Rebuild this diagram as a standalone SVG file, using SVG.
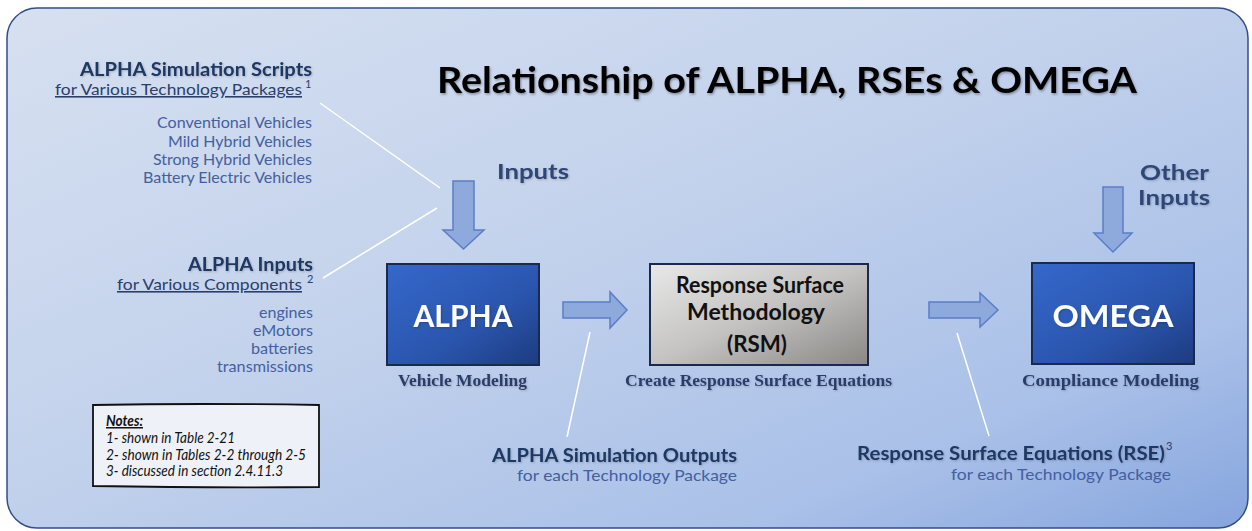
<svg xmlns="http://www.w3.org/2000/svg" width="1252" height="531" viewBox="0 0 1252 531">
  <defs>
    <linearGradient id="bg" x1="0" y1="0" x2="1" y2="1">
      <stop offset="0" stop-color="#d6e0f0"/>
      <stop offset="0.45" stop-color="#c3d2ec"/>
      <stop offset="0.8" stop-color="#a9c0e8"/>
      <stop offset="1" stop-color="#86a5de"/>
    </linearGradient>
    <linearGradient id="blueBox" x1="0" y1="0" x2="1" y2="1">
      <stop offset="0" stop-color="#3568cc"/>
      <stop offset="0.6" stop-color="#2a55ad"/>
      <stop offset="1" stop-color="#1d3b80"/>
    </linearGradient>
    <linearGradient id="grayBox" x1="0" y1="0" x2="1" y2="1">
      <stop offset="0" stop-color="#e8e8e8"/>
      <stop offset="0.5" stop-color="#c4c3c2"/>
      <stop offset="1" stop-color="#8a8784"/>
    </linearGradient>
    <filter id="shadow" x="-5%" y="-20%" width="110%" height="150%">
      <feDropShadow dx="1" dy="1.5" stdDeviation="1" flood-color="#000" flood-opacity="0.35"/>
    </filter>
    <filter id="softshadow" x="-5%" y="-20%" width="110%" height="150%">
      <feDropShadow dx="1" dy="1" stdDeviation="0.8" flood-color="#000" flood-opacity="0.2"/>
    </filter>
    <style>
      .sans { font-family: Lato, "Open Sans", "Liberation Sans", sans-serif; }
      .serif { font-family: "Liberation Serif", "DejaVu Serif", serif; font-weight: bold; }
      .head { font-size: 18px; font-weight: bold; fill: #1f3864; }
      .sub { font-size: 16px; fill: #2b3f6c; text-decoration: underline; }
      .item { font-size: 16px; fill: #4360a0; }
      .sup { font-size: 11px; fill: #2b3f6c; }
      .lbl { font-size: 21px; font-weight: bold; fill: #2e4677; }
      .cap { font-size: 16px; fill: #2a3c6a; }
      .boxtxt { font-size: 30px; font-weight: bold; fill: #ffffff; }
      .rsm { font-size: 22px; font-weight: bold; fill: #111111; }
      .note { font-size: 15px; font-style: italic; fill: #111111; }
      .callout { stroke: #ffffff; stroke-width: 1.5; fill: none; }
      .barrow { fill: #8eaadc; stroke: #5a7ec8; stroke-width: 1.5; }
      .box { stroke: #1a2a4c; stroke-width: 2; }
    </style>
  </defs>

  <!-- background frame -->
  <rect x="7" y="8" width="1241" height="520" rx="30" ry="30" fill="url(#bg)" stroke="#2f4f86" stroke-width="1.5"/>

  <!-- title -->
  <text class="sans" x="437" y="93" font-size="36" font-weight="bold" fill="#000" textLength="700" lengthAdjust="spacingAndGlyphs" filter="url(#shadow)">Relationship of ALPHA, RSEs &amp; OMEGA</text>

  <!-- connectors -->
  <g id="connectors">
    <line class="callout" x1="320" y1="103" x2="440" y2="188"/>
    <line class="callout" x1="323" y1="278" x2="437" y2="208"/>
    <line class="callout" x1="590" y1="332" x2="567" y2="437"/>
    <line class="callout" x1="957" y1="333" x2="989" y2="436"/>
    <polygon class="barrow" points="453,181 474,181 474,230 484,230 463.5,249 443,230 453,230"/>
    <polygon class="barrow" points="1103,187 1123,187 1123,233 1132,233 1113,252 1094,233 1103,233"/>
    <polygon class="barrow" points="563,302 610,302 610,292 627,310 610,328 610,318 563,318"/>
    <polygon class="barrow" points="929,302 980,302 980,293 998,310 980,327 980,318 929,318"/>
  </g>

  <!-- ALPHA simulation scripts -->
  <g id="scripts" class="sans">
    <text class="head" x="312" y="76" text-anchor="end" textLength="232" lengthAdjust="spacingAndGlyphs" filter="url(#softshadow)">ALPHA Simulation Scripts</text>
    <text class="sub" x="55" y="95" textLength="247" lengthAdjust="spacingAndGlyphs">for Various Technology Packages</text>
    <text class="sup" x="305" y="88">1</text>
    <text class="item" x="312" y="128" text-anchor="end" textLength="155" lengthAdjust="spacingAndGlyphs">Conventional Vehicles</text>
    <text class="item" x="312" y="147" text-anchor="end" textLength="144" lengthAdjust="spacingAndGlyphs">Mild Hybrid Vehicles</text>
    <text class="item" x="312" y="165" text-anchor="end" textLength="159" lengthAdjust="spacingAndGlyphs">Strong Hybrid Vehicles</text>
    <text class="item" x="312" y="183" text-anchor="end" textLength="169" lengthAdjust="spacingAndGlyphs">Battery Electric Vehicles</text>
  </g>

  <!-- ALPHA inputs -->
  <g id="alpha-inputs" class="sans">
    <text class="head" x="313" y="271" text-anchor="end" textLength="125" lengthAdjust="spacingAndGlyphs" filter="url(#softshadow)">ALPHA Inputs</text>
    <text class="sub" x="117" y="290" textLength="185" lengthAdjust="spacingAndGlyphs">for Various Components</text>
    <text class="sup" x="307" y="283">2</text>
    <text class="item" x="313" y="318" text-anchor="end" textLength="54" lengthAdjust="spacingAndGlyphs">engines</text>
    <text class="item" x="313" y="336" text-anchor="end" textLength="60" lengthAdjust="spacingAndGlyphs">eMotors</text>
    <text class="item" x="313" y="354" text-anchor="end" textLength="62" lengthAdjust="spacingAndGlyphs">batteries</text>
    <text class="item" x="313" y="372" text-anchor="end" textLength="96" lengthAdjust="spacingAndGlyphs">transmissions</text>
  </g>

  <!-- Inputs label -->
  <g id="inputs-label" class="sans">
    <text class="lbl" x="497" y="179" textLength="72" lengthAdjust="spacingAndGlyphs" filter="url(#softshadow)">Inputs</text>
  </g>

  <!-- Other inputs label -->
  <g id="other-inputs-label" class="sans">
    <text class="lbl" x="1209" y="180" text-anchor="end" textLength="69" lengthAdjust="spacingAndGlyphs" filter="url(#softshadow)">Other</text>
    <text class="lbl" x="1210" y="205" text-anchor="end" textLength="72" lengthAdjust="spacingAndGlyphs" filter="url(#softshadow)">Inputs</text>
  </g>

  <!-- ALPHA node -->
  <g id="alpha">
    <rect class="box" x="387" y="264" width="152" height="101" fill="url(#blueBox)"/>
    <text class="sans boxtxt" x="463" y="327" text-anchor="middle" textLength="99" lengthAdjust="spacingAndGlyphs" filter="url(#softshadow)">ALPHA</text>
    <text class="serif cap" x="462.5" y="386" text-anchor="middle" textLength="129" lengthAdjust="spacingAndGlyphs" filter="url(#softshadow)">Vehicle Modeling</text>
  </g>

  <!-- RSM node -->
  <g id="rsm">
    <rect class="box" x="650" y="264" width="218" height="101" fill="url(#grayBox)"/>
    <text class="sans rsm" x="760" y="293" text-anchor="middle" textLength="168" lengthAdjust="spacingAndGlyphs">Response Surface</text>
    <text class="sans rsm" x="756" y="320" text-anchor="middle" textLength="138" lengthAdjust="spacingAndGlyphs">Methodology</text>
    <text class="sans rsm" x="757" y="352" text-anchor="middle" textLength="60" lengthAdjust="spacingAndGlyphs">(RSM)</text>
    <text class="serif cap" x="758.5" y="386" text-anchor="middle" textLength="267" lengthAdjust="spacingAndGlyphs" filter="url(#softshadow)">Create Response Surface Equations</text>
  </g>

  <!-- OMEGA node -->
  <g id="omega">
    <rect class="box" x="1032" y="263" width="162" height="101" fill="url(#blueBox)"/>
    <text class="sans boxtxt" x="1113" y="327" text-anchor="middle" textLength="121" lengthAdjust="spacingAndGlyphs" filter="url(#softshadow)">OMEGA</text>
    <text class="serif cap" x="1110.5" y="386" text-anchor="middle" textLength="177" lengthAdjust="spacingAndGlyphs" filter="url(#softshadow)">Compliance Modeling</text>
  </g>

  <!-- ALPHA simulation outputs -->
  <g id="sim-outputs" class="sans">
    <text class="head" x="737" y="462" text-anchor="end" textLength="245" lengthAdjust="spacingAndGlyphs" filter="url(#softshadow)">ALPHA Simulation Outputs</text>
    <text class="item" x="737" y="481" text-anchor="end" textLength="220" lengthAdjust="spacingAndGlyphs">for each Technology Package</text>
  </g>

  <!-- RSE -->
  <g id="rse" class="sans">
    <text class="head" x="1165" y="460" text-anchor="end" textLength="308" lengthAdjust="spacingAndGlyphs" filter="url(#softshadow)">Response Surface Equations (RSE)</text>
    <text class="sup" x="1166" y="450" fill="#1f3864">3</text>
    <text class="item" x="1171" y="480" text-anchor="end" textLength="220" lengthAdjust="spacingAndGlyphs">for each Technology Package</text>
  </g>

  <!-- Notes -->
  <g id="notes" class="sans">
    <path d="M93,405 Q200,403 319,405 L319,487 Q210,488 93,486 Z" fill="#eef1f8" stroke="#111" stroke-width="1.8"/>
    <text class="note" x="106" y="426" font-weight="bold" text-decoration="underline" textLength="37" lengthAdjust="spacingAndGlyphs">Notes:</text>
    <text class="note" x="106" y="443" textLength="129" lengthAdjust="spacingAndGlyphs">1- shown in Table 2-21</text>
    <text class="note" x="106" y="460" textLength="200" lengthAdjust="spacingAndGlyphs">2- shown in Tables 2-2 through 2-5</text>
    <text class="note" x="106" y="476" textLength="177" lengthAdjust="spacingAndGlyphs">3- discussed in section 2.4.11.3</text>
  </g>
</svg>
